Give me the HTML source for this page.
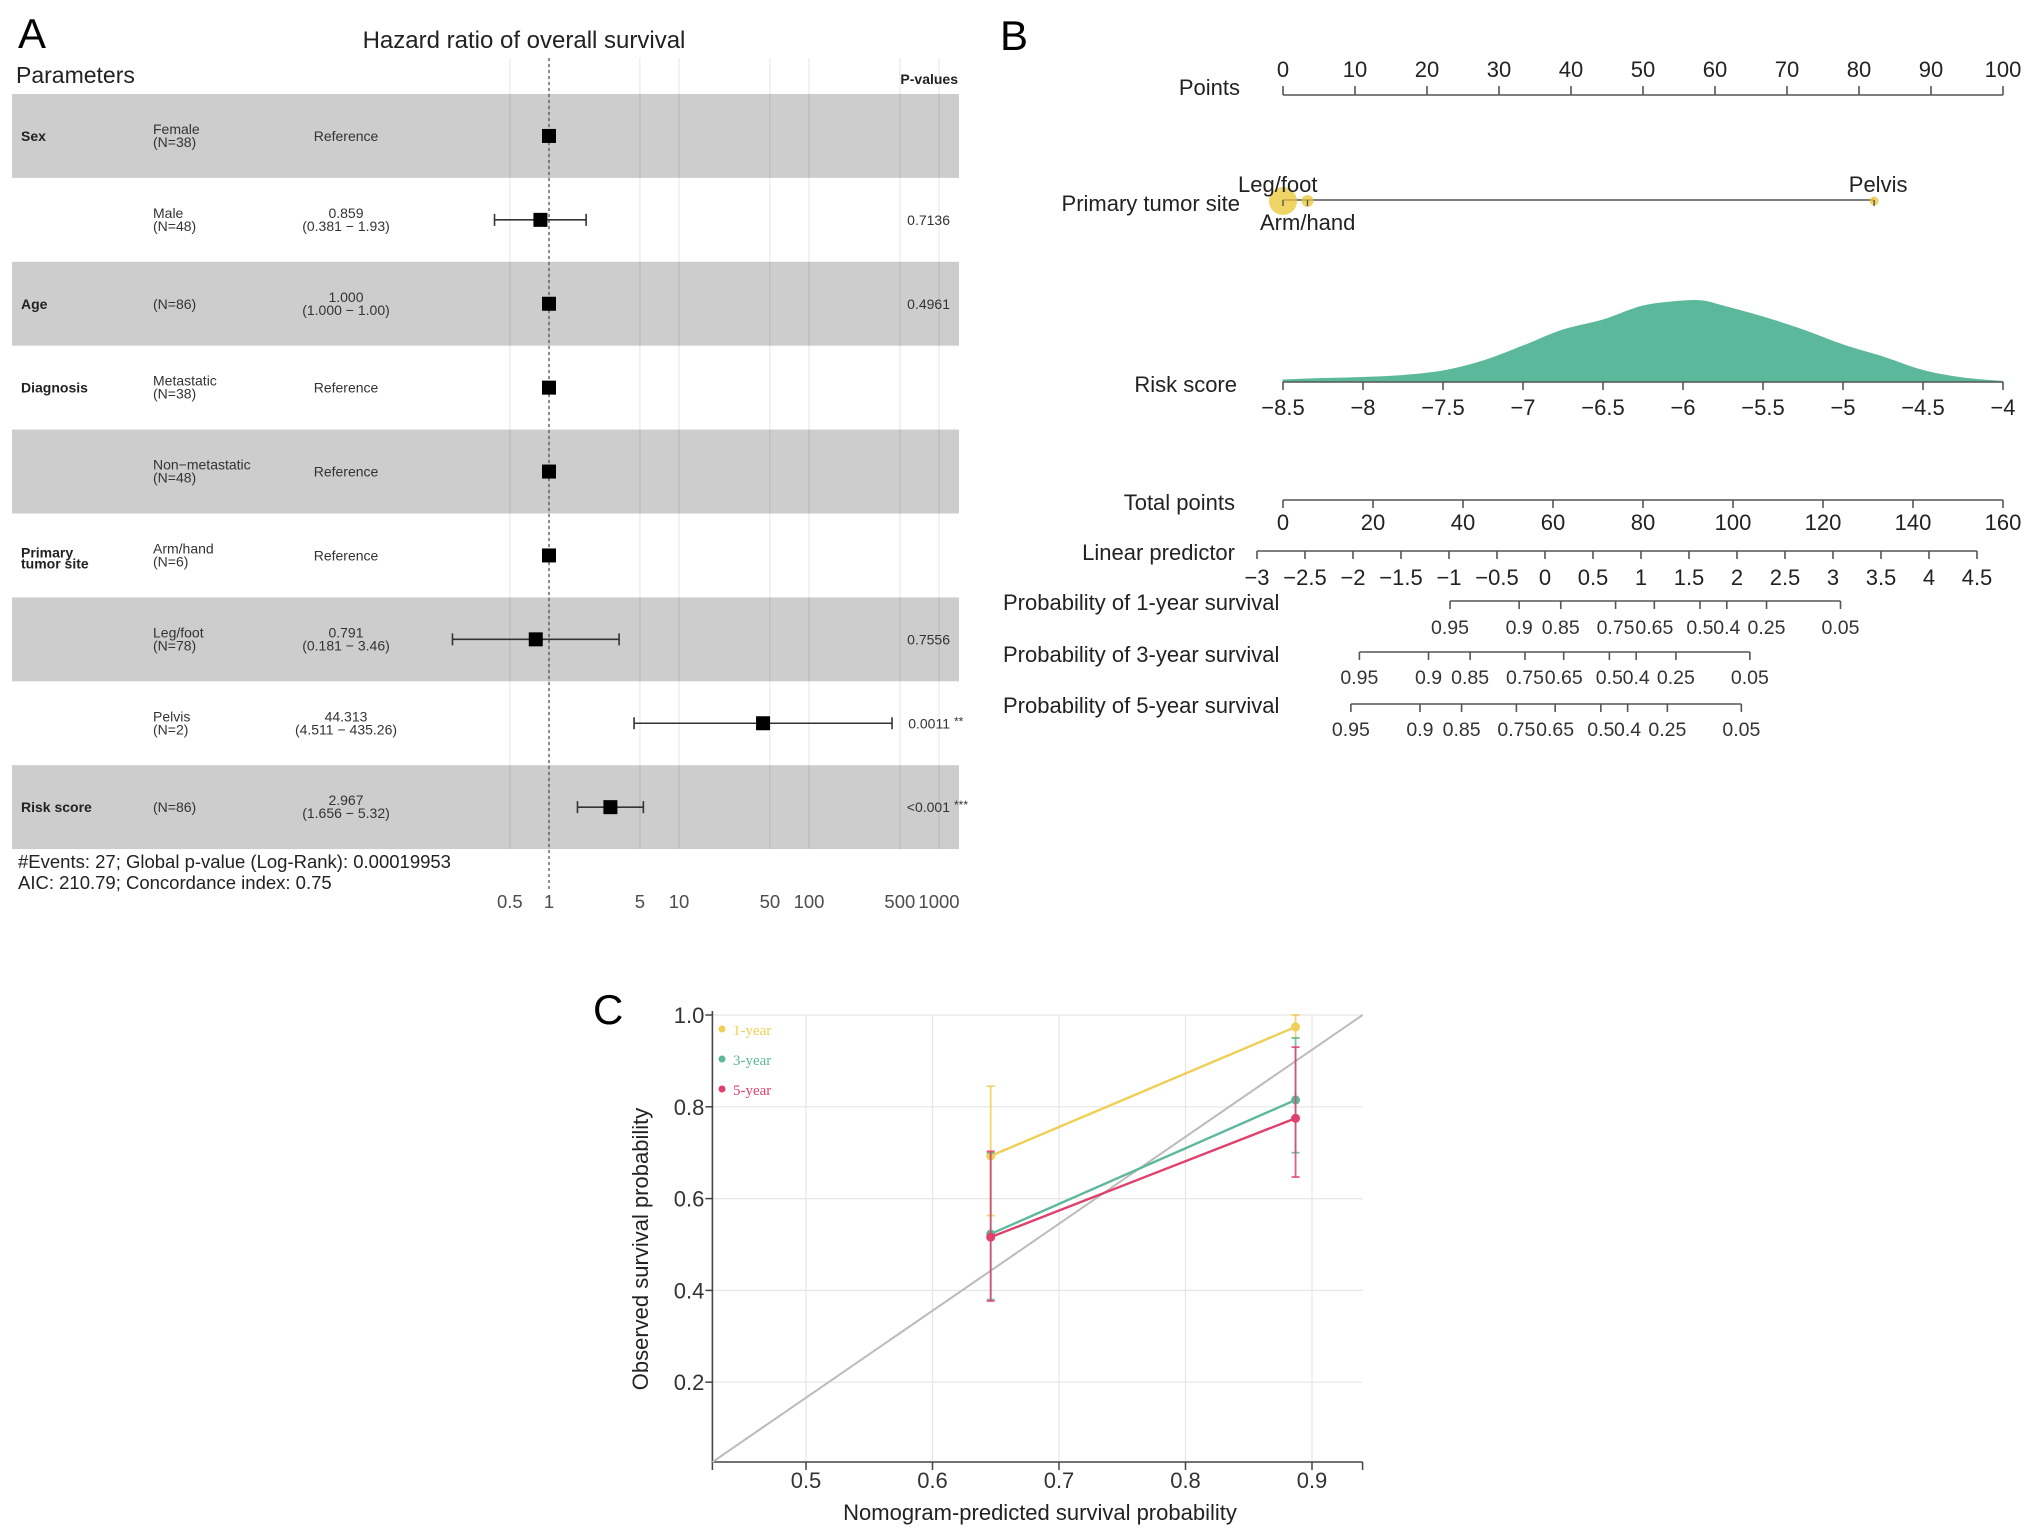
<!DOCTYPE html>
<html><head><meta charset="utf-8">
<style>
html,body{margin:0;padding:0;background:#fff;}
svg{display:block;font-family:"Liberation Sans",Arial,sans-serif;}
</style></head>
<body>
<svg id="fig" width="2032" height="1538" viewBox="0 0 2032 1538" xmlns="http://www.w3.org/2000/svg">
<rect x="0" y="0" width="2032" height="1538" fill="#fff"/>
<g id="pA"></g>
<g id="pB"></g>
<g id="pC"></g>
</svg>
<script>
// ---------- Panel A data ----------
const hrGroups = ['Sex','','Age','Diagnosis','','Primary|tumor site','','','Risk score'];
const hrSub1 = ['Female','Male','(N=86)','Metastatic','Non\u2212metastatic','Arm/hand','Leg/foot','Pelvis','(N=86)'];
const hrSub2 = ['(N=38)','(N=48)','','(N=38)','(N=48)','(N=6)','(N=78)','(N=2)',''];
const hrEst = [1, 0.859, 1.000, 1, 1, 1, 0.791, 44.313, 2.967];
const hrLow = [null, 0.381, 1.000, null, null, null, 0.181, 4.511, 1.656];
const hrHigh = [null, 1.93, 1.00, null, null, null, 3.46, 435.26, 5.32];
const hrEstText = ['Reference','0.859','1.000','Reference','Reference','Reference','0.791','44.313','2.967'];
const hrCiText = ['','(0.381 \u2212   1.93)','(1.000 \u2212   1.00)','','','','(0.181 \u2212   3.46)','(4.511 \u2212 435.26)','(1.656 \u2212   5.32)'];
const hrP = ['','0.7136','0.4961','','','','0.7556','0.0011','<0.001'];
const hrStars = ['','','','','','','','**','***'];
const hrTicks = [0.5, 1, 5, 10, 50, 100, 500, 1000];

// ---------- Panel B data ----------
const pointsTicks = [0,10,20,30,40,50,60,70,80,90,100];
const siteLabels = ['Leg/foot','Arm/hand','Pelvis'];
const sitePoints = [0, 3.4, 82.1];
const siteSizes = [14, 6, 4.5];
const riskTicks = [-8.5,-8,-7.5,-7,-6.5,-6,-5.5,-5,-4.5,-4];
const densX = [-8.5,-8.25,-8,-7.75,-7.5,-7.25,-7,-6.75,-6.5,-6.25,-6,-5.875,-5.75,-5.5,-5.25,-5,-4.75,-4.5,-4.25,-4];
const densY = [2,3.5,4.5,6.5,11,21,36,52,62,76,81,81,76,65,52,37,25,11.5,4,0.5];
const totalTicks = [0,20,40,60,80,100,120,140,160];
const lpTicks = [-3,-2.5,-2,-1.5,-1,-0.5,0,0.5,1,1.5,2,2.5,3,3.5,4,4.5];
const probTicks = [0.95,0.9,0.85,0.75,0.65,0.5,0.4,0.25,0.05];
const probLabels = ['Probability of 1-year survival','Probability of 3-year survival','Probability of 5-year survival'];
const probShift = [1.981, 1.037, 0.948];

// ---------- Panel C data ----------
const calX = [0.646, 0.887];
const cal1 = [0.693, 0.974];
const cal1Lo = [0.563, 0.95];
const cal1Hi = [0.845, 1.0];
const cal3 = [0.523, 0.815];
const cal3Lo = [0.38, 0.70];
const cal3Hi = [0.70, 0.95];
const cal5 = [0.516, 0.775];
const cal5Lo = [0.377, 0.647];
const cal5Hi = [0.703, 0.93];
const calXTicks = [0.5,0.6,0.7,0.8,0.9];
const calYTicks = [0.2,0.4,0.6,0.8,1.0];
const diagX = [0.426, 0.94];
const diagY = [0.026, 1.0];
const calNames = ['1-year','3-year','5-year'];
const calColors = ['#efcf55','#5db89d','#e0416c'];

const NS='http://www.w3.org/2000/svg';
function mk(parent, tag, attrs, text){
  const e=document.createElementNS(NS,tag);
  for(const k in attrs) e.setAttribute(k,attrs[k]);
  if(text!==undefined) e.textContent=text;
  parent.appendChild(e); return e;
}
function fmt(v){ return String(v).replace('-','\u2212'); }

// ================= PANEL A =================
(function(){
const g=document.getElementById('pA');
const rowTop=94, rowH=83.9, bandL=12, bandR=959;
const xHR = v => 549 + 130*Math.log10(v);
const rowC = i => rowTop + rowH*i + rowH/2;

let t=mk(g,'text',{x:18,y:48,'font-size':42,fill:'#000'},'A');
 
t=mk(g,'text',{x:524,y:48,'font-size':24,'text-anchor':'middle',fill:'#222'},'Hazard ratio of overall survival');
 
t=mk(g,'text',{x:16,y:83,'font-size':23,fill:'#222'},'Parameters');
 
t=mk(g,'text',{x:958,y:84,'font-size':14,'font-weight':'bold','text-anchor':'end',fill:'#222'},'P-values');
 

for(let i=0;i<hrGroups.length;i++){
  if(i%2===0){
    const b=mk(g,'rect',{x:bandL,y:rowTop+rowH*i,width:bandR-bandL,height:rowH,fill:'#cdcdcd'});
     
  }
}
for(const v of hrTicks){
  const l=mk(g,'line',{x1:xHR(v),x2:xHR(v),y1:58,y2:849,stroke:'#000','stroke-opacity':0.07,'stroke-width':1.5});
   
  const tl=mk(g,'text',{x:xHR(v),y:908,'font-size':18.5,'text-anchor':'middle',fill:'#4d4d4d'},String(v));
   
}
const dl=mk(g,'line',{x1:xHR(1),x2:xHR(1),y1:58,y2:890,stroke:'#555','stroke-width':1.3,'stroke-dasharray':'3,3'});
 

for(let i=0;i<hrGroups.length;i++){
  const yc=rowC(i);
  if(hrGroups[i]){
    const parts=hrGroups[i].split('|');
    parts.forEach((p,k)=>{
      const e=mk(g,'text',{x:21,y:yc+5+(parts.length>1?(k===0?-3:8):0),'font-size':14,'font-weight':'bold',fill:'#222'},p);
       
    });
  }
  if(hrSub2[i]){
    let e=mk(g,'text',{x:153,y:yc-2,'font-size':14,fill:'#333'},hrSub1[i]);
     
    e=mk(g,'text',{x:153,y:yc+11,'font-size':14,fill:'#333'},hrSub2[i]);
     
  } else {
    const e=mk(g,'text',{x:153,y:yc+5,'font-size':14,fill:'#333'},hrSub1[i]);
     
  }
  if(hrCiText[i]){
    let e=mk(g,'text',{x:346,y:yc-2,'font-size':14,'text-anchor':'middle',fill:'#333'},hrEstText[i]);
     
    e=mk(g,'text',{x:346,y:yc+11,'font-size':14,'text-anchor':'middle',fill:'#333','xml:space':'preserve'},hrCiText[i]);
     
  } else {
    const e=mk(g,'text',{x:346,y:yc+5,'font-size':14,'text-anchor':'middle',fill:'#333'},hrEstText[i]);
     
  }
  if(hrP[i]){
    const e=mk(g,'text',{x:950,y:yc+5,'font-size':14,'text-anchor':'end',fill:'#333'},hrP[i]);
     
    if(hrStars[i]){
      const s=mk(g,'text',{x:954,y:yc+2,'font-size':12,fill:'#333'},hrStars[i]);
       
    }
  }
  if(hrLow[i]!==null){
    const x1=xHR(hrLow[i]), x2=xHR(hrHigh[i]);
    const l=mk(g,'line',{x1:x1,x2:x2,y1:yc,y2:yc,stroke:'#333','stroke-width':1.6});
     
    [x1,x2].forEach(xx=>{
      const c=mk(g,'line',{x1:xx,x2:xx,y1:yc-6,y2:yc+6,stroke:'#333','stroke-width':1.6});
       
    });
  }
  const sq=mk(g,'rect',{x:xHR(hrEst[i])-7,y:yc-7,width:14,height:14,fill:'#000'});
   
}
t=mk(g,'text',{x:18,y:868,'font-size':18.5,fill:'#222'},'#Events: 27; Global p-value (Log-Rank): 0.00019953');
 
t=mk(g,'text',{x:18,y:889,'font-size':18.5,fill:'#222'},'AIC: 210.79; Concordance index: 0.75');
 
})();

// ================= PANEL B =================
(function(){
const g=document.getElementById('pB');
const X0=1283, X1=2003;
const xPts = v => X0 + (X1-X0)*v/100;
const xRisk = v => X0 + (X1-X0)*(v+8.5)/4.5;
const xTot = v => X0 + (X1-X0)*v/160;
const xLP = v => 1257 + (1977-1257)*(v+3)/7.5;
const cloglog = p => Math.log(-Math.log(p));
const C='#555';

let t=mk(g,'text',{x:1000,y:50,'font-size':42,fill:'#000'},'B');
 

function rowLabel(txt,x,y,anchor,name){
  const e=mk(g,'text',{x:x,y:y+7,'font-size':22,'text-anchor':anchor,fill:'#222'},txt);
   
}
rowLabel('Points',1240,88,'end','points-label');
let l=mk(g,'line',{x1:xPts(0),x2:xPts(100),y1:95,y2:95,stroke:C,'stroke-width':1.6});
 
for(const v of pointsTicks){
  const tk=mk(g,'line',{x1:xPts(v),x2:xPts(v),y1:86,y2:95,stroke:C,'stroke-width':1.6});
   
  const tl=mk(g,'text',{x:xPts(v),y:77,'font-size':22,'text-anchor':'middle',fill:'#222'},String(v));
   
}
rowLabel('Primary tumor site',1240,204,'end','primary-tumor-site-label');
l=mk(g,'line',{x1:xPts(Math.min(...sitePoints)),x2:xPts(Math.max(...sitePoints)),y1:200,y2:200,stroke:C,'stroke-width':1.6});
 
for(let i=0;i<sitePoints.length;i++){
  const c=mk(g,'circle',{cx:xPts(sitePoints[i]),cy:201,r:siteSizes[i],fill:'#e9c633','fill-opacity':0.75});
   
  const tk=mk(g,'line',{x1:xPts(sitePoints[i]),x2:xPts(sitePoints[i]),y1:200,y2:206,stroke:C,'stroke-width':1.4});
   
}
const siteLabY=[192,230,192];
const siteAnchor=['start','start','middle'];
const siteLabX=[1238,1260,null];
for(let i=0;i<siteLabels.length;i++){
  const x = siteLabX[i]!==null ? siteLabX[i] : xPts(sitePoints[i])+4;
  const e=mk(g,'text',{x:x,y:siteLabY[i],'font-size':22,'text-anchor':siteAnchor[i],fill:'#222'},siteLabels[i]);
   
}
rowLabel('Risk score',1237,385,'end','risk-score-label');
const base=382;
const pts=densX.map((v,i)=>[xRisk(v), base-densY[i]]);
let d='M'+pts[0][0].toFixed(1)+','+base+' L'+pts[0][0].toFixed(1)+','+pts[0][1].toFixed(1);
for(let i=0;i<pts.length-1;i++){
  const p0=pts[Math.max(0,i-1)], p1=pts[i], p2=pts[i+1], p3=pts[Math.min(pts.length-1,i+2)];
  const c1=[p1[0]+(p2[0]-p0[0])/6, p1[1]+(p2[1]-p0[1])/6];
  const c2=[p2[0]-(p3[0]-p1[0])/6, p2[1]-(p3[1]-p1[1])/6];
  d+=' C'+c1[0].toFixed(1)+','+c1[1].toFixed(1)+' '+c2[0].toFixed(1)+','+c2[1].toFixed(1)+' '+p2[0].toFixed(1)+','+p2[1].toFixed(1);
}
d+=' L'+pts[pts.length-1][0].toFixed(1)+','+base+' Z';
const dp=mk(g,'path',{d:d,fill:'#5cb89b',stroke:'#5cb89b','stroke-width':1});
 
l=mk(g,'line',{x1:xRisk(-8.5),x2:xRisk(-4),y1:base,y2:base,stroke:C,'stroke-width':1.6});
 
for(const v of riskTicks){
  const tk=mk(g,'line',{x1:xRisk(v),x2:xRisk(v),y1:base,y2:base+8,stroke:C,'stroke-width':1.6});
   
  const tl=mk(g,'text',{x:xRisk(v),y:415,'font-size':22,'text-anchor':'middle',fill:'#222'},fmt(v));
   
}
rowLabel('Total points',1235,503,'end','total-points-label');
l=mk(g,'line',{x1:xTot(0),x2:xTot(160),y1:500,y2:500,stroke:C,'stroke-width':1.6});
 
for(const v of totalTicks){
  const tk=mk(g,'line',{x1:xTot(v),x2:xTot(v),y1:500,y2:508,stroke:C,'stroke-width':1.6});
   
  const tl=mk(g,'text',{x:xTot(v),y:530,'font-size':22,'text-anchor':'middle',fill:'#222'},String(v));
   
}
rowLabel('Linear predictor',1235,553,'end','linear-predictor-label');
l=mk(g,'line',{x1:xLP(-3),x2:xLP(4.5),y1:551,y2:551,stroke:C,'stroke-width':1.6});
 
for(const v of lpTicks){
  const tk=mk(g,'line',{x1:xLP(v),x2:xLP(v),y1:551,y2:559,stroke:C,'stroke-width':1.6});
   
  const tl=mk(g,'text',{x:xLP(v),y:585,'font-size':22,'text-anchor':'middle',fill:'#222'},fmt(v));
   
}
const lineY=[601,652,704], labY=[627,677,729], titleY=[603,655,706];
for(let k=0;k<3;k++){
  const e=mk(g,'text',{x:1003,y:titleY[k]+7,'font-size':22,fill:'#222'},probLabels[k]);
   
  const xs=probTicks.map(p=>xLP(cloglog(p)+probShift[k]));
  const al=mk(g,'line',{x1:Math.min(...xs),x2:Math.max(...xs),y1:lineY[k],y2:lineY[k],stroke:C,'stroke-width':1.6});
   
  for(let i=0;i<probTicks.length;i++){
    const tk=mk(g,'line',{x1:xs[i],x2:xs[i],y1:lineY[k],y2:lineY[k]+8,stroke:C,'stroke-width':1.6});
     
    const tl=mk(g,'text',{x:xs[i],y:labY[k]+7,'font-size':19.5,'text-anchor':'middle',fill:'#333'},String(probTicks[i]));
     
  }
}
})();

// ================= PANEL C =================
(function(){
const g=document.getElementById('pC');
const xC = v => 806 + (v-0.5)*1265;
const yC = v => 1015 + (1-v)*459;
const L=xC(diagX[0]), R=xC(diagX[1]), T=1015, B=1462;

let t=mk(g,'text',{x:593,y:1024,'font-size':42,fill:'#000'},'C');
 

for(const v of calXTicks){
  const gl=mk(g,'line',{x1:xC(v),x2:xC(v),y1:T,y2:B,stroke:'#e6e6e6','stroke-width':1.2});
   
  const tk=mk(g,'line',{x1:xC(v),x2:xC(v),y1:B,y2:B+8,stroke:'#444','stroke-width':1.5});
   
  const tl=mk(g,'text',{x:xC(v),y:1488,'font-size':22,'text-anchor':'middle',fill:'#333'},String(v));
   
}
for(const v of calYTicks){
  const gl=mk(g,'line',{x1:L,x2:R,y1:yC(v),y2:yC(v),stroke:'#e6e6e6','stroke-width':1.2});
   
  const tk=mk(g,'line',{x1:L-7,x2:L,y1:yC(v),y2:yC(v),stroke:'#444','stroke-width':1.5});
   
  const tl=mk(g,'text',{x:L-8,y:yC(v)+8,'font-size':22,'text-anchor':'end',fill:'#333'},v.toFixed(1));
   
}
let a=mk(g,'line',{x1:L,x2:L,y1:T-4,y2:B,stroke:'#444','stroke-width':1.6});
 
a=mk(g,'line',{x1:L,x2:R,y1:B,y2:B,stroke:'#444','stroke-width':1.6});
 
[L,R].forEach(xx=>{
  const e=mk(g,'line',{x1:xx,x2:xx,y1:B,y2:B+8,stroke:'#444','stroke-width':1.5});
   
});
const dg=mk(g,'line',{x1:xC(diagX[0]),y1:yC(diagY[0]),x2:xC(diagX[1]),y2:yC(diagY[1]),stroke:'#bbbbbb','stroke-width':2});
 

const ser=[cal1,cal3,cal5], lo=[cal1Lo,cal3Lo,cal5Lo], hi=[cal1Hi,cal3Hi,cal5Hi];
for(let s=0;s<3;s++){
  const col=calColors[s];
  for(let i=0;i<calX.length;i++){
    const x=xC(calX[i]);
    const e=mk(g,'line',{x1:x,x2:x,y1:yC(lo[s][i]),y2:yC(hi[s][i]),stroke:col,'stroke-width':1.8,'stroke-opacity':0.85});
     
    [lo[s][i],hi[s][i]].forEach(v=>{
      const c=mk(g,'line',{x1:x-4,x2:x+4,y1:yC(v),y2:yC(v),stroke:col,'stroke-width':1.8,'stroke-opacity':0.85});
       
    });
  }
  const pl=mk(g,'polyline',{points:calX.map((v,i)=>xC(v)+','+yC(ser[s][i])).join(' '),fill:'none',stroke:col,'stroke-width':2.4});
   
  for(let i=0;i<calX.length;i++){
    const p=mk(g,'circle',{cx:xC(calX[i]),cy:yC(ser[s][i]),r:4.5,fill:col});
     
  }
  const ly=1030+s*30;
  const ld=mk(g,'circle',{cx:722,cy:ly-1,r:3.5,fill:col});
   
  const lt=mk(g,'text',{x:733,y:ly+5,'font-size':15,'font-family':'Liberation Serif, serif',fill:col},calNames[s]);
   
}
let e=mk(g,'text',{x:0,y:0,'font-size':22,'text-anchor':'middle',fill:'#222',transform:'translate(648,1249) rotate(-90)'},'Observed survival probability');
 
e=mk(g,'text',{x:1040,y:1520,'font-size':22,'text-anchor':'middle',fill:'#222'},'Nomogram-predicted survival probability');
 
})();
</script>
</body></html>
